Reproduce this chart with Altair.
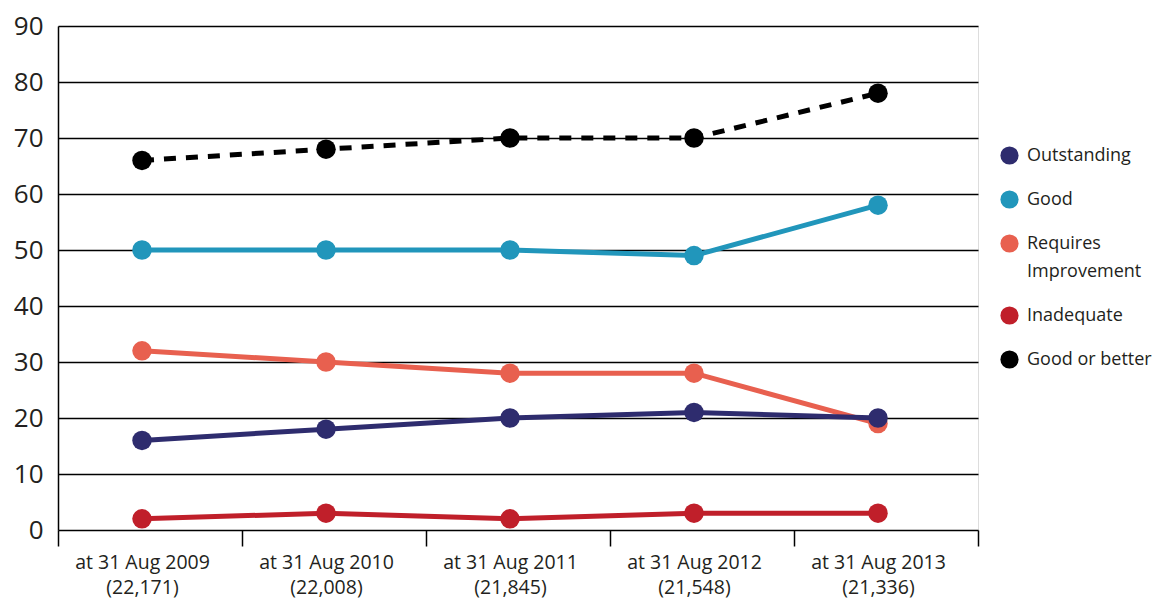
import altair as alt
import pandas as pd

categories = [
    "at 31 Aug 2009\n(22,171)",
    "at 31 Aug 2010\n(22,008)",
    "at 31 Aug 2011\n(21,845)",
    "at 31 Aug 2012\n(21,548)",
    "at 31 Aug 2013\n(21,336)",
]
series_names = ["Outstanding", "Good", "Requires Improvement", "Inadequate", "Good or better"]
colors = ["#2e2c6e", "#2196bb", "#e8604f", "#c01f2a", "#000000"]

outstanding = [16, 18, 20, 21, 20]
good = [50, 50, 50, 49, 58]
requires_improvement = [32, 30, 28, 28, 19]
inadequate = [2, 3, 2, 3, 3]
good_or_better = [66, 68, 70, 70, 78]

values = {
    "Outstanding": outstanding,
    "Good": good,
    "Requires Improvement": requires_improvement,
    "Inadequate": inadequate,
    "Good or better": good_or_better,
}
# drawing order (later on top)
draw_order = ["Good or better", "Good", "Requires Improvement", "Inadequate", "Outstanding"]
rows = []
for i, s in enumerate(draw_order):
    for c, v in zip(categories, values[s]):
        rows.append({"cat": c, "series": s, "value": v, "ord": i})
df = pd.DataFrame(rows)

FONT = "Open Sans"
TEXT = "#231f20"

x = alt.X(
    "cat:N",
    sort=categories,
    scale=alt.Scale(paddingInner=0, paddingOuter=0),
    axis=alt.Axis(
        title=None,
        labelAngle=0,
        labelExpr="split(datum.label, '\\n')",
        labelFontSize=19.5,
        labelFont=FONT,
        labelColor=TEXT,
        labelLineHeight=25,
        labelPadding=7,
        labelOffset=-8,
        tickBand="extent",
        ticks=True,
        tickSize=16,
        tickColor="#000000",
        tickWidth=1.5,
        domain=False,
        grid=False,
    ),
)
y = alt.Y(
    "value:Q",
    scale=alt.Scale(domain=[0, 90]),
    axis=alt.Axis(
        title=None,
        values=list(range(0, 91, 10)),
        labelFontSize=26,
        labelFont=FONT,
        labelColor=TEXT,
        labelPadding=15,
        ticks=False,
        domain=True,
        domainColor="#000000",
        domainWidth=1.5,
        grid=True,
        gridColor="#000000",
        gridWidth=1.5,
        gridOpacity=1,
    ),
)
color = alt.Color(
    "series:N",
    scale=alt.Scale(domain=series_names, range=colors),
    legend=alt.Legend(
        title=None,
        orient="none",
        legendX=942,
        legendY=120,
        symbolType="circle",
        symbolSize=330,
        symbolStrokeWidth=0,
        symbolOpacity=1,
        labelFontSize=18,
        labelFont=FONT,
        labelColor=TEXT,
        labelOffset=8,
        labelLimit=300,
        rowPadding=25,
        labelExpr="datum.label == 'Requires Improvement' ? ['Requires', 'Improvement'] : datum.label",
    ),
)

base = alt.Chart(df)

solid = base.transform_filter("datum.series != 'Good or better'").mark_line(
    strokeWidth=5, xOffset=-8
).encode(x=x, y=y, color=color, detail="series:N", order="ord:Q")
dashed = base.transform_filter("datum.series == 'Good or better'").mark_line(
    strokeWidth=5, strokeDash=[12, 10], xOffset=-8
).encode(x=x, y=y, color=color)
points = base.mark_circle(size=380, opacity=1, xOffset=-8).encode(
    x=x, y=y, color=color, order="ord:Q"
)

chart = (
    alt.layer(dashed, solid, points)
    .properties(
        width=920,
        height=504,
        autosize=alt.AutoSizeParams(type="none"),
        padding={"left": 50, "top": 18, "right": 176, "bottom": 70},
    )
    .configure_view(stroke=None)
    .configure(background="white", style={"guide-label": {"lineHeight": 28}})
)

chart.save("out.html", embed_options={"renderer": "svg", "actions": False})
